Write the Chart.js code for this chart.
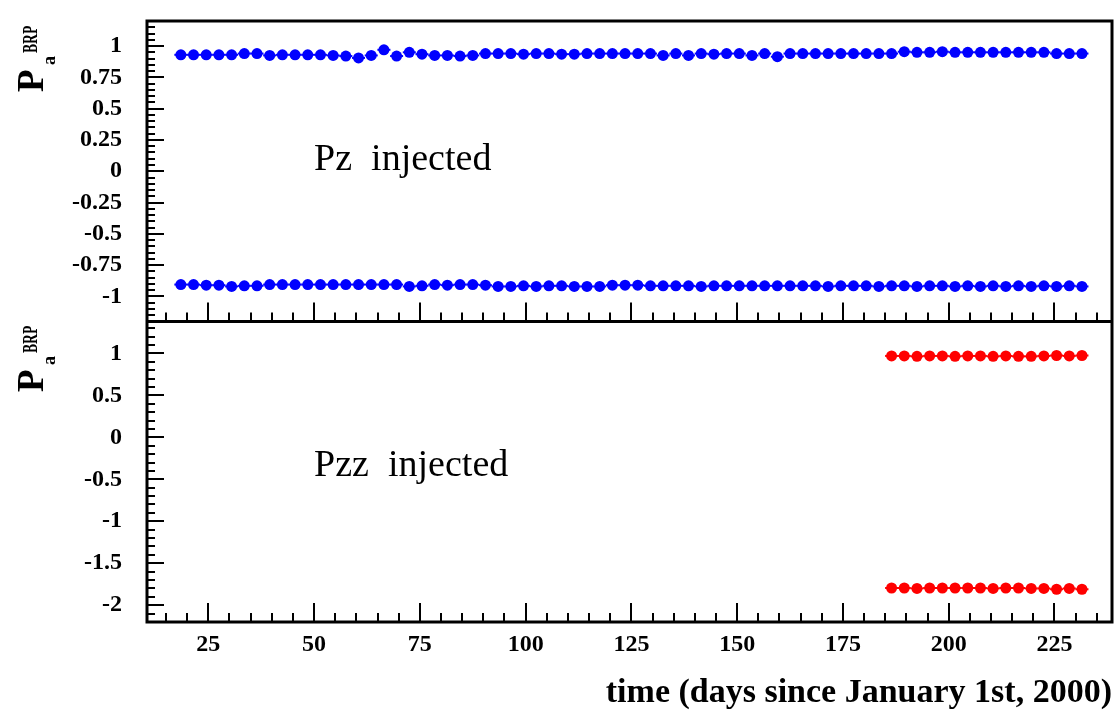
<!DOCTYPE html>
<html>
<head>
<meta charset="utf-8">
<script src="https://cdn.jsdelivr.net/npm/chart.js@4/dist/chart.umd.min.js"></script>
<style>
  body { margin: 0; background: #fff; }
  canvas { display: block; }
</style>
</head>
<body>
<canvas id="brp" width="1118" height="718"></canvas>
<script>
// days since Jan 1st 2000, one point every ~3 days
var days = [18.5, 21.5, 24.5, 27.5, 30.5, 33.5, 36.5, 39.5, 42.5, 45.5,
            48.5, 51.5, 54.5, 57.5, 60.5, 63.5, 66.5, 69.5, 72.5, 75.5,
            78.5, 81.5, 84.5, 87.5, 90.5, 93.5, 96.5, 99.5, 102.5, 105.5,
            108.5, 111.5, 114.5, 117.5, 120.5, 123.5, 126.5, 129.5, 132.5, 135.5,
            138.5, 141.5, 144.5, 147.5, 150.5, 153.5, 156.5, 159.5, 162.5, 165.5,
            168.5, 171.5, 174.5, 177.5, 180.5, 183.5, 186.5, 189.5, 192.5, 195.5,
            198.5, 201.5, 204.5, 207.5, 210.5, 213.5, 216.5, 219.5, 222.5, 225.5,
            228.5, 231.5];
var pzPlus = [0.93, 0.93, 0.93, 0.93, 0.93, 0.94, 0.94, 0.925, 0.93, 0.93,
              0.93, 0.93, 0.925, 0.92, 0.905, 0.925, 0.97, 0.92, 0.95, 0.935,
              0.925, 0.925, 0.92, 0.925, 0.94, 0.94, 0.94, 0.935, 0.94, 0.94,
              0.935, 0.935, 0.94, 0.94, 0.94, 0.94, 0.94, 0.94, 0.925, 0.94,
              0.925, 0.94, 0.935, 0.94, 0.94, 0.925, 0.94, 0.915, 0.94, 0.94,
              0.94, 0.94, 0.94, 0.94, 0.94, 0.94, 0.94, 0.955, 0.95, 0.95,
              0.955, 0.95, 0.95, 0.95, 0.95, 0.95, 0.95, 0.95, 0.95, 0.94,
              0.94, 0.94];
var pzMinus = [-0.905, -0.905, -0.91, -0.91, -0.92, -0.915, -0.915, -0.905, -0.905, -0.905,
               -0.905, -0.905, -0.905, -0.905, -0.905, -0.905, -0.905, -0.905, -0.92, -0.915,
               -0.905, -0.91, -0.905, -0.905, -0.91, -0.92, -0.92, -0.915, -0.92, -0.915,
               -0.915, -0.92, -0.92, -0.92, -0.91, -0.91, -0.91, -0.915, -0.915, -0.915,
               -0.915, -0.92, -0.915, -0.915, -0.915, -0.915, -0.915, -0.915, -0.915, -0.915,
               -0.915, -0.92, -0.915, -0.915, -0.915, -0.92, -0.915, -0.915, -0.92, -0.915,
               -0.915, -0.92, -0.915, -0.92, -0.915, -0.92, -0.915, -0.92, -0.915, -0.92,
               -0.915, -0.92];

var pzzDays = [186.5, 189.5, 192.5, 195.5, 198.5, 201.5, 204.5, 207.5,
               210.5, 213.5, 216.5, 219.5, 222.5, 225.5, 228.5, 231.5];
var pzzPlus = [0.97, 0.97, 0.965, 0.97, 0.97, 0.965, 0.97, 0.97,
               0.965, 0.97, 0.965, 0.965, 0.97, 0.975, 0.97, 0.975];
var pzzMinus = [-1.795, -1.795, -1.8, -1.795, -1.795, -1.795, -1.795, -1.795,
                -1.8, -1.795, -1.795, -1.8, -1.8, -1.81, -1.8, -1.81];

var xTicks = [25, 50, 75, 100, 125, 150, 175, 200, 225];
var topTicks = [1, 0.75, 0.5, 0.25, 0, -0.25, -0.5, -0.75, -1];
var botTicks = [1, 0.5, 0, -0.5, -1, -1.5, -2];

var tickFont = { family: '"Liberation Serif", serif', size: 24, weight: 'bold' };

function pts(xs, ys) {
    var out = [];
    for (var i = 0; i < xs.length; i++) out.push({ x: xs[i], y: ys[i] });
    return out;
}

function setTicks(list) {
    return function (scale) {
        scale.ticks = list.map(function (v) { return { value: v }; });
    };
}

function marks(color, data, axis) {
    return {
        data: data,
        yAxisID: axis,
        backgroundColor: color,
        borderColor: color,
        borderWidth: 0,
        pointRadius: 5.5,
        pointHoverRadius: 5.5,
        showLine: false
    };
}

// draws inward ticks along an edge
function edgeTicks(ctx, scale, step, major, lenMajor, lenMinor, horiz, at) {
    var v = Math.ceil(scale.min / step - 1e-6) * step;
    for (; v <= scale.max + 1e-9; v += step) {
        var r = v / major;
        var isMajor = Math.abs(r - Math.round(r)) < 1e-6;
        var len = isMajor ? lenMajor : lenMinor;
        var p = Math.round(scale.getPixelForValue(v));
        ctx.beginPath();
        if (horiz) {
            ctx.moveTo(p, at);
            ctx.lineTo(p, at - len);
        } else {
            ctx.moveTo(at, p);
            ctx.lineTo(at + len, p);
        }
        ctx.stroke();
    }
}

function yTitle(ctx, x, y) {
    ctx.save();
    ctx.translate(x, y);
    ctx.rotate(-Math.PI / 2);
    ctx.fillStyle = '#000';
    ctx.textAlign = 'left';
    ctx.textBaseline = 'alphabetic';
    ctx.font = 'bold 37px "Liberation Serif"';
    ctx.fillText('P', 0, 0);
    ctx.font = 'bold 18px "Liberation Serif"';
    ctx.fillText('a', 27, 12);
    ctx.translate(39, -6);
    ctx.scale(0.65, 1);
    ctx.font = 'bold 21px "Liberation Serif"';
    ctx.fillText('BRP', 0, 0);
    ctx.restore();
}

// thin horizontal bars through the markers, like the x error bars of the original
var xBars = {
    id: 'xBars',
    beforeDatasetsDraw: function (chart) {
        var ctx = chart.ctx;
        ctx.save();
        ctx.lineWidth = 2;
        chart.data.datasets.forEach(function (ds, i) {
            ctx.strokeStyle = ds.borderColor;
            chart.getDatasetMeta(i).data.forEach(function (el) {
                ctx.beginPath();
                ctx.moveTo(el.x - 6.5, el.y);
                ctx.lineTo(el.x + 6.5, el.y);
                ctx.stroke();
            });
        });
        ctx.restore();
    }
};

var frame = {
    id: 'frame',
    afterDraw: function (chart) {
        var ctx = chart.ctx;
        var a = chart.chartArea;
        var sx = chart.scales.x, st = chart.scales.yTop, sb = chart.scales.yBot;
        ctx.save();
        ctx.strokeStyle = '#000';
        ctx.lineWidth = 2;
        edgeTicks(ctx, st, 0.05, 0.25, 17, 8, false, a.left);
        edgeTicks(ctx, sb, 0.1, 0.5, 17, 8, false, a.left);
        edgeTicks(ctx, sx, 5, 25, 19, 9, true, st.bottom);
        edgeTicks(ctx, sx, 5, 25, 19, 9, true, sb.bottom);
        ctx.lineWidth = 3;
        ctx.strokeRect(a.left, a.top, a.right - a.left, a.bottom - a.top);
        ctx.beginPath();
        ctx.moveTo(a.left, st.bottom);
        ctx.lineTo(a.right, st.bottom);
        ctx.stroke();

        ctx.fillStyle = '#000';
        ctx.font = '38px "Liberation Serif"';
        ctx.textAlign = 'left';
        ctx.textBaseline = 'middle';
        ctx.fillText('Pz  injected', sx.getPixelForValue(50), st.getPixelForValue(0.09));
        ctx.fillText('Pzz  injected', sx.getPixelForValue(50), sb.getPixelForValue(-0.34));
        ctx.restore();

        yTitle(ctx, 43, 92);
        yTitle(ctx, 43, 392);
    }
};

function fixY(s) {
    s.width = 147;
    s.paddingTop = 0;
    s.paddingBottom = 0;
}

new Chart(document.getElementById('brp'), {
    type: 'scatter',
    data: {
        datasets: [
            marks('#0000ff', pts(days, pzPlus), 'yTop'),
            marks('#0000ff', pts(days, pzMinus), 'yTop'),
            marks('#ff0000', pts(pzzDays, pzzPlus), 'yBot'),
            marks('#ff0000', pts(pzzDays, pzzMinus), 'yBot')
        ]
    },
    options: {
        responsive: false,
        devicePixelRatio: 1,
        animation: false,
        layout: { padding: { top: 21, right: 6, left: 0, bottom: 0 } },
        plugins: { legend: { display: false }, tooltip: { enabled: false } },
        scales: {
            x: {
                type: 'linear',
                position: 'bottom',
                min: 10.5,
                max: 238.6,
                afterBuildTicks: setTicks(xTicks),
                afterFit: function (s) { s.height = 96; s.paddingLeft = 0; s.paddingRight = 0; },
                grid: { display: false, drawTicks: false },
                border: { display: false },
                ticks: {
                    autoSkip: false, maxRotation: 0, padding: 8,
                    color: '#000', font: tickFont,
                    callback: function (v) { return String(v); }
                },
                title: {
                    display: true,
                    text: 'time (days since January 1st, 2000)',
                    align: 'end',
                    color: '#000',
                    font: { family: '"Liberation Serif", serif', size: 34, weight: 'bold' },
                    padding: { top: 0, bottom: 4 }
                }
            },
            yTop: {
                type: 'linear',
                position: 'left',
                stack: 'panels',
                weight: 2,
                min: -1.2,
                max: 1.2,
                afterBuildTicks: setTicks(topTicks),
                afterFit: fixY,
                grid: { display: false, drawTicks: false },
                border: { display: false },
                ticks: {
                    autoSkip: false, padding: 25, color: '#000', font: tickFont,
                    callback: function (v) { return String(v); }
                }
            },
            yBot: {
                type: 'linear',
                position: 'left',
                stack: 'panels',
                weight: 1,
                min: -2.2,
                max: 1.38,
                afterBuildTicks: setTicks(botTicks),
                afterFit: fixY,
                grid: { display: false, drawTicks: false },
                border: { display: false },
                ticks: {
                    autoSkip: false, padding: 25, color: '#000', font: tickFont,
                    callback: function (v) { return String(v); }
                }
            }
        }
    },
    plugins: [xBars, frame]
});
</script>
</body>
</html>
